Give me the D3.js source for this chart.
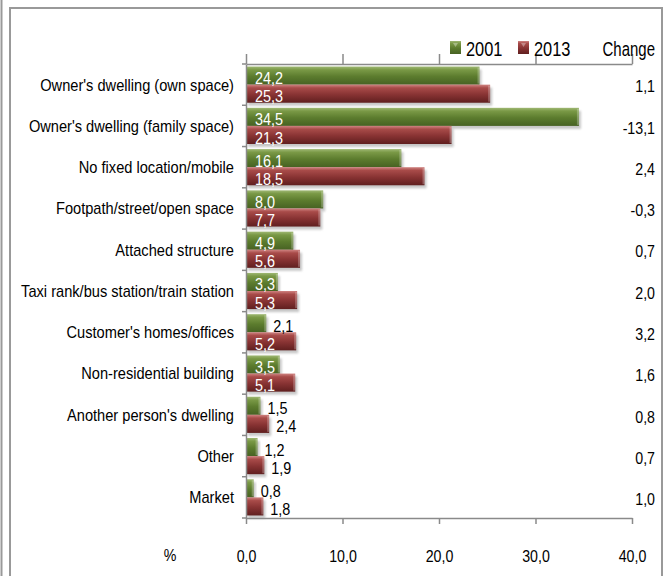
<!DOCTYPE html>
<html>
<head>
<meta charset="utf-8">
<script src="https://cdn.jsdelivr.net/npm/d3@7"></script>
<style>
  body { margin: 0; background: #fff; }
  svg text { font-family: "Liberation Sans", Arial, sans-serif; }
</style>
</head>
<body>
<div id="chart"></div>
<script>
const width = 667;
const height = 576;

// data
const categories = [
    "Owner's dwelling (own space)",
    "Owner's dwelling (family space)",
    "No fixed location/mobile",
    "Footpath/street/open space",
    "Attached structure",
    "Taxi rank/bus station/train station",
    "Customer's homes/offices",
    "Non-residential building",
    "Another person's dwelling",
    "Other",
    "Market"
];
const series = ["2001", "2013"];
const values2001 = [24.2, 34.5, 16.1, 8.0, 4.9, 3.3, 2.1, 3.5, 1.5, 1.2, 0.8];
const values2013 = [25.3, 21.3, 18.5, 7.7, 5.6, 5.3, 5.2, 5.1, 2.4, 1.9, 1.8];
const changes = ["1,1", "-13,1", "2,4", "-0,3", "0,7", "2,0", "3,2", "1,6", "0,8", "0,7", "1,0"];
const xTicks = [0, 10, 20, 30, 40];

const fmt = v => v.toFixed(1).replace(".", ",");

// squeeze text horizontally, the original uses a narrow font
function narrow(sel, k = 0.84) {
    sel.each(function() {
        const w = this.getComputedTextLength();
        d3.select(this)
            .attr("textLength", w * k)
            .attr("lengthAdjust", "spacingAndGlyphs");
    });
}

const svg = d3.select("#chart")
    .append("svg")
    .attr("width", width)
    .attr("height", height);

// gradients for the bevelled bars
const defs = svg.append("defs");
const grads = {
    "2001": ["#9fb874", "#7a9946", "#5c7c2e", "#476223"],
    "2013": ["#d08482", "#a84b49", "#883333", "#601f1f"]
};
Object.entries(grads).forEach(([k, c]) => {
    const g = defs.append("linearGradient")
        .attr("id", "g" + k)
        .attr("x1", 0).attr("y1", 0).attr("x2", 0).attr("y2", 1);
    g.append("stop").attr("offset", 0).attr("stop-color", c[0]);
    g.append("stop").attr("offset", 0.18).attr("stop-color", c[1]);
    g.append("stop").attr("offset", 0.55).attr("stop-color", c[2]);
    g.append("stop").attr("offset", 1).attr("stop-color", c[3]);
});
defs.append("filter").attr("id", "blur")
    .append("feGaussianBlur").attr("stdDeviation", 1.2);

// frame lines
const frame = svg.append("g").attr("stroke", "#999").attr("stroke-width", 2).attr("fill", "none");
frame.append("line").attr("x1", 1.5).attr("x2", 1.5).attr("y1", 0).attr("y2", height);
frame.append("path").attr("d", `M10,${height}V8H662V${height}`);

// scales
const x = d3.scaleLinear().domain([0, 40]).range([246, 632]);
const y = d3.scaleBand().domain(categories).range([64, 518]);
const ySub = d3.scaleBand().domain(series).range([0, y.bandwidth()]).paddingOuter(0.14);

const rows = categories.map((c, i) => ({
    cat: c,
    vals: [
        {s: "2001", v: values2001[i]},
        {s: "2013", v: values2013[i]}
    ],
    change: changes[i]
}));

const row = svg.selectAll(".row")
    .data(rows)
    .enter()
    .append("g")
    .attr("class", "row")
    .attr("transform", d => `translate(0,${y(d.cat)})`);

// shadows first, then bars
row.selectAll(".shadow")
    .data(d => d.vals)
    .enter()
    .append("rect")
    .attr("class", "shadow")
    .attr("x", x(0) + 2)
    .attr("y", d => ySub(d.s) + 3)
    .attr("width", d => x(d.v) - x(0))
    .attr("height", ySub.bandwidth())
    .attr("fill", "#9a9a9a")
    .attr("opacity", 0.55)
    .attr("filter", "url(#blur)");

row.selectAll(".bar")
    .data(d => d.vals)
    .enter()
    .append("rect")
    .attr("class", "bar")
    .attr("x", x(0))
    .attr("y", d => ySub(d.s))
    .attr("width", d => x(d.v) - x(0))
    .attr("height", ySub.bandwidth())
    .attr("fill", d => `url(#g${d.s})`);

// light bevel on bar ends
row.selectAll(".bevel")
    .data(d => d.vals)
    .enter()
    .append("rect")
    .attr("class", "bevel")
    .attr("x", d => x(d.v) - 2)
    .attr("y", d => ySub(d.s) + 1)
    .attr("width", 2)
    .attr("height", ySub.bandwidth() - 2)
    .attr("fill", "#fff")
    .attr("opacity", 0.25);

// value labels: inside (white) for long bars, outside (black) for short
row.selectAll(".val")
    .data(d => d.vals)
    .enter()
    .append("text")
    .attr("class", "val")
    .attr("x", d => d.v >= 3 ? x(0) + 9 : x(d.v) + 7)
    .attr("y", d => ySub(d.s) + ySub.bandwidth() - 0.5)
    .attr("font-size", 16)
    .attr("fill", d => d.v >= 3 ? "#fff" : "#000")
    .text(d => fmt(d.v))
    .call(narrow, 0.9);

// category labels
row.append("text")
    .attr("x", 234)
    .attr("y", y.bandwidth() / 2)
    .attr("dy", "0.35em")
    .attr("text-anchor", "end")
    .attr("font-size", 17)
    .attr("fill", "#000")
    .text(d => d.cat)
    .call(narrow, 0.86);

// change column
row.append("text")
    .attr("x", 655)
    .attr("y", y.bandwidth() / 2 + 2)
    .attr("dy", "0.35em")
    .attr("text-anchor", "end")
    .attr("font-size", 16.5)
    .attr("fill", "#000")
    .text(d => d.change)
    .call(narrow, 0.86);

// axes
const axisColor = "#8a8a8a";

const yAxis = svg.append("g")
    .attr("transform", `translate(${x(0)},0)`)
    .call(d3.axisLeft(y).tickSize(0).tickFormat(""));
yAxis.selectAll(".domain").attr("stroke", axisColor).attr("stroke-width", 1.5);
svg.append("g").selectAll("line")
    .data(categories.map(c => y(c)).concat([518]))
    .enter().append("line")
    .attr("x1", x(0) - 4).attr("x2", x(0))
    .attr("y1", d => d).attr("y2", d => d)
    .attr("stroke", axisColor).attr("stroke-width", 1.5);

const xAxis = svg.append("g")
    .attr("transform", "translate(0,518)")
    .call(d3.axisBottom(x).tickValues(xTicks).tickSize(6).tickPadding(26).tickSizeOuter(0).tickFormat(fmt));
xAxis.selectAll(".domain").attr("stroke", axisColor).attr("stroke-width", 1.5);
xAxis.selectAll(".tick line").attr("stroke", axisColor).attr("stroke-width", 1.5);
xAxis.selectAll(".tick text")
    .attr("font-size", 16.5)
    .attr("fill", "#000")
    .style("font-family", "'Liberation Sans', Arial, sans-serif")
    .call(narrow, 0.86);

// secondary axis on top, no labels
const xTop = svg.append("g")
    .attr("transform", "translate(0,64)")
    .call(d3.axisTop(x).tickValues(xTicks).tickSize(10).tickSizeOuter(0).tickFormat(""));
xTop.selectAll(".domain").attr("stroke", axisColor).attr("stroke-width", 1.5);
xTop.selectAll(".tick line").attr("stroke", axisColor).attr("stroke-width", 1.5);

svg.append("text")
    .attr("x", 170).attr("y", 561)
    .attr("text-anchor", "middle")
    .attr("font-size", 16.5)
    .text("%")
    .call(narrow, 0.86);

// legend
const legend = svg.append("g");
const legendItems = [{s: "2001", x: 450}, {s: "2013", x: 518}];
legendItems.forEach(it => {
    legend.append("rect")
        .attr("x", it.x).attr("y", 41)
        .attr("width", 11).attr("height", 13)
        .attr("fill", `url(#g${it.s})`);
    legend.append("path")
        .attr("d", `M${it.x + 3},${43}h5l-2.5,4z`)
        .attr("fill", "#fff").attr("opacity", 0.35);
    legend.append("text")
        .attr("x", it.x + 16).attr("y", 55.5)
        .attr("font-size", 21)
        .text(it.s)
        .call(narrow, 0.78);
});
legend.append("text")
    .attr("x", 655).attr("y", 55.5)
    .attr("text-anchor", "end")
    .attr("font-size", 20.5)
    .text("Change")
    .call(narrow, 0.73);
</script>
</body>
</html>
